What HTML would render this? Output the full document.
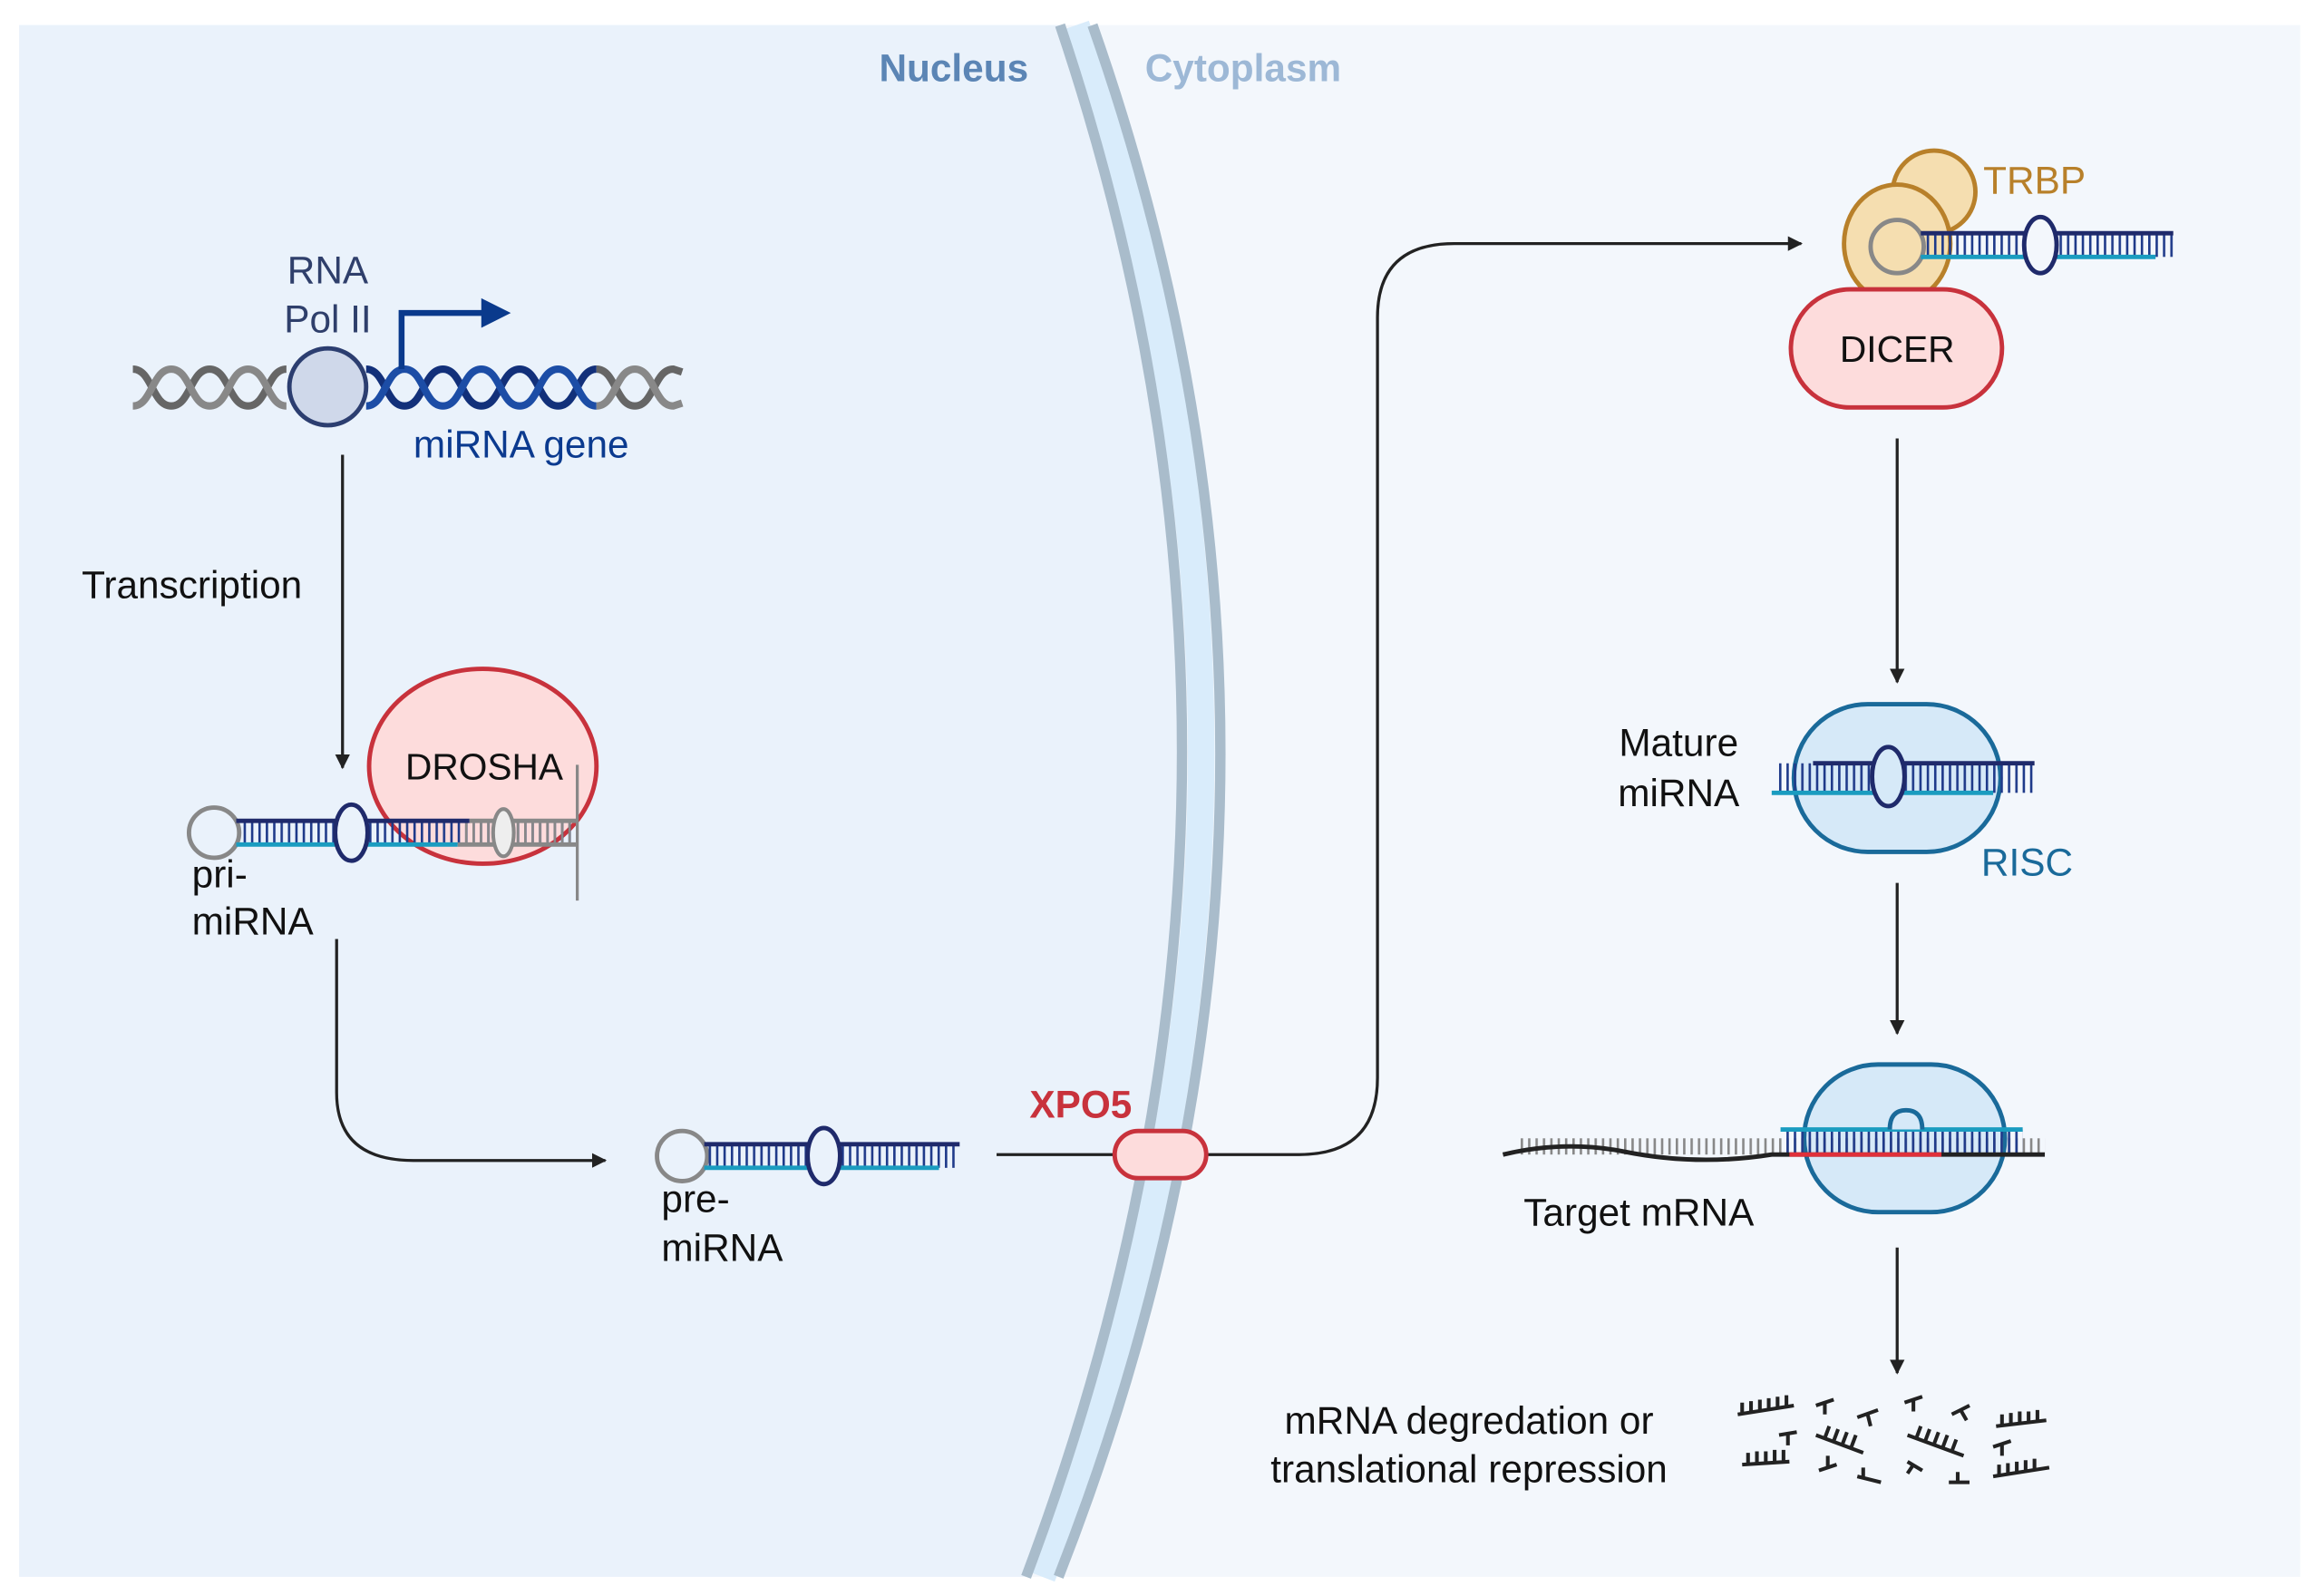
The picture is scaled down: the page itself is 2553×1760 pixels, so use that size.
<!DOCTYPE html>
<html><head><meta charset="utf-8"><style>
html,body{margin:0;padding:0;background:#fff;}
svg{display:block;}
text{font-family:"Liberation Sans",Arial,sans-serif;}
</style></head><body>
<svg width="2553" height="1760" viewBox="0 0 1568 1081" preserveAspectRatio="none" xmlns="http://www.w3.org/2000/svg">
<defs>
<pattern id="rb" x="0" y="0" width="5" height="40" patternUnits="userSpaceOnUse"><rect x="0" y="0" width="1.6" height="40" fill="#1f3a8a"/></pattern>
<pattern id="rg" x="0" y="0" width="5" height="40" patternUnits="userSpaceOnUse"><rect x="0" y="0" width="1.6" height="40" fill="#888"/></pattern>
<marker id="ah" markerWidth="10" markerHeight="10" refX="9" refY="5" orient="auto" markerUnits="userSpaceOnUse"><path d="M0,0 L10,5 L0,10 z" fill="#222"/></marker>
</defs>
<rect x="0" y="0" width="1568" height="1081" fill="#fff"/>
<rect x="13" y="17" width="1545" height="1051" fill="#f3f7fc"/>
<path d="M13,17 L718,17 Q894,540 695,1068 L13,1068 Z" fill="#eaf2fb"/>
<path d="M729,17 Q909,540 706,1068" fill="none" stroke="#d9ecfb" stroke-width="18"/>
<path d="M718,17 Q894,540 695,1068" fill="none" stroke="#a9bccb" stroke-width="7"/>
<path d="M740,17 Q924,540 717,1068" fill="none" stroke="#a9bccb" stroke-width="7"/>
<text x="646" y="55" font-size="26" font-weight="bold" fill="#5b85b5" text-anchor="middle">Nucleus</text>
<text x="842" y="55" font-size="26" font-weight="bold" fill="#9db8d6" text-anchor="middle">Cytoplasm</text>

<g fill="none" stroke-width="5">
<path d="M90,250 C103,250 103,275 116,275 C129,275 129,250 142,250 C155,250 155,275 168,275 C181,275 181,250 194,250" stroke="#666"/>
<path d="M90,275 C103,275 103,250 116,250 C129,250 129,275 142,275 C155,275 155,250 168,250 C181,250 181,275 194,275" stroke="#888"/>
<path d="M248,250 C261,250 261,275 274,275 C287,275 287,250 300,250 C313,250 313,275 326,275 C339,275 339,250 352,250 C365,250 365,275 378,275 C391,275 391,250 404,250" stroke="#12307a"/>
<path d="M248,275 C261,275 261,250 274,250 C287,250 287,275 300,275 C313,275 313,250 326,250 C339,250 339,275 352,275 C365,275 365,250 378,250 C391,250 391,275 404,275" stroke="#1c4da6"/>
<path d="M404,250 C417,250 417,275 430,275 C443,275 443,250 456,250 L462,252" stroke="#666"/>
<path d="M404,275 C417,275 417,250 430,250 C443,250 443,275 456,275 L462,273" stroke="#888"/>
</g>
<circle cx="222" cy="262" r="26" fill="#cfd8ea" stroke="#2c3e70" stroke-width="3"/>
<path d="M272,250 L272,212 L328,212" fill="none" stroke="#0a3a8c" stroke-width="4"/>
<path d="M326,202 L346,212 L326,222 Z" fill="#0a3a8c"/>
<text x="222" y="192" font-size="26" fill="#2f3f6b" text-anchor="middle">RNA</text>
<text x="222" y="225" font-size="26" fill="#2f3f6b" text-anchor="middle">Pol II</text>
<text x="353" y="310" font-size="26" fill="#0b3a8f" text-anchor="middle">miRNA gene</text>

<line x1="232" y1="308" x2="232" y2="520" stroke="#222" stroke-width="2" marker-end="url(#ah)"/>
<text x="130" y="405" font-size="26" fill="#111" text-anchor="middle">Transcription</text>

<ellipse cx="327" cy="519" rx="77" ry="66" fill="#fddcdc" stroke="#c8323c" stroke-width="3"/>
<text x="328" y="528" font-size="25" fill="#111" text-anchor="middle">DROSHA</text>
<circle cx="145" cy="564" r="17" fill="#eaf2fb" stroke="#888" stroke-width="3"/>
<rect x="162" y="556" width="228" height="16" fill="url(#rb)"/>
<rect x="315" y="556" width="75" height="16" fill="url(#rg)"/>
<line x1="160" y1="556" x2="318" y2="556" stroke="#1f2a6b" stroke-width="3"/>
<line x1="160" y1="572" x2="310" y2="572" stroke="#1a9cc0" stroke-width="3"/>
<line x1="318" y1="556" x2="390" y2="556" stroke="#888" stroke-width="3"/>
<line x1="310" y1="572" x2="390" y2="572" stroke="#888" stroke-width="3"/>
<ellipse cx="238" cy="564" rx="11" ry="19" fill="#eaf2fb" stroke="#1f2a6b" stroke-width="3"/>
<ellipse cx="341" cy="564" rx="7" ry="16" fill="#eee" stroke="#888" stroke-width="2.5"/>
<line x1="391" y1="518" x2="391" y2="610" stroke="#888" stroke-width="2"/>
<text x="130" y="601" font-size="26" fill="#111">pri-</text>
<text x="130" y="633" font-size="26" fill="#111">miRNA</text>

<path d="M228,636 L228,740 Q228,786 280,786 L410,786" fill="none" stroke="#222" stroke-width="2" marker-end="url(#ah)"/>

<circle cx="462" cy="783" r="17" fill="#eaf2fb" stroke="#888" stroke-width="3"/>
<rect x="479" y="775" width="169" height="16" fill="url(#rb)"/>
<line x1="477" y1="775" x2="650" y2="775" stroke="#1f2a6b" stroke-width="3"/>
<line x1="477" y1="791" x2="636" y2="791" stroke="#1a9cc0" stroke-width="3"/>
<ellipse cx="558" cy="783" rx="11" ry="19" fill="#eaf2fb" stroke="#1f2a6b" stroke-width="3"/>
<text x="448" y="821" font-size="26" fill="#111">pre-</text>
<text x="448" y="854" font-size="26" fill="#111">miRNA</text>

<path d="M675,782 L880,782 Q933,782 933,730 L933,215 Q933,165 985,165 L1220,165" fill="none" stroke="#222" stroke-width="2" marker-end="url(#ah)"/>
<rect x="755" y="766" width="62" height="32" rx="16" fill="#fddcdc" stroke="#c8323c" stroke-width="3"/>
<text x="732" y="757" font-size="26" font-weight="bold" fill="#c8323c" text-anchor="middle">XPO5</text>

<circle cx="1310" cy="130" r="28" fill="#f5deb0" stroke="#b8802a" stroke-width="3"/>
<ellipse cx="1285" cy="165" rx="36" ry="40" fill="#f5deb0" stroke="#b8802a" stroke-width="3"/>
<text x="1378" y="131" font-size="26" fill="#b8802a" text-anchor="middle">TRBP</text>
<circle cx="1285" cy="167" r="18" fill="none" stroke="#888" stroke-width="3"/>
<rect x="1303" y="158" width="169" height="16" fill="url(#rb)"/>
<line x1="1301" y1="158" x2="1472" y2="158" stroke="#1f2a6b" stroke-width="3"/>
<line x1="1301" y1="174" x2="1460" y2="174" stroke="#1a9cc0" stroke-width="3"/>
<ellipse cx="1382" cy="166" rx="11" ry="19" fill="#f3f7fc" stroke="#1f2a6b" stroke-width="3"/>
<rect x="1213" y="196" width="143" height="80" rx="40" fill="#fddcdc" stroke="#c8323c" stroke-width="3"/>
<text x="1285" y="245" font-size="25" fill="#111" text-anchor="middle">DICER</text>

<line x1="1285" y1="297" x2="1285" y2="462" stroke="#222" stroke-width="2" marker-end="url(#ah)"/>

<rect x="1215" y="477" width="140" height="100" rx="50" fill="#d6e9f8" stroke="#1a6a9a" stroke-width="3"/>
<rect x="1202" y="517" width="176" height="20" fill="url(#rb)"/>
<line x1="1228" y1="517" x2="1378" y2="517" stroke="#1f2a6b" stroke-width="3"/>
<line x1="1200" y1="537" x2="1350" y2="537" stroke="#1a9cc0" stroke-width="3"/>
<ellipse cx="1279" cy="526" rx="11" ry="20" fill="#d6e9f8" stroke="#1f2a6b" stroke-width="3"/>
<text x="1137" y="512" font-size="26" fill="#111" text-anchor="middle">Mature</text>
<text x="1137" y="546" font-size="26" fill="#111" text-anchor="middle">miRNA</text>
<text x="1373" y="593" font-size="26" fill="#1a6a9a" text-anchor="middle">RISC</text>

<line x1="1285" y1="598" x2="1285" y2="700" stroke="#222" stroke-width="2" marker-end="url(#ah)"/>

<rect x="1222" y="721" width="136" height="100" rx="50" fill="#d6e9f8" stroke="#1a6a9a" stroke-width="3"/>
<rect x="1030" y="771" width="355" height="11" fill="url(#rg)"/>
<rect x="1208" y="765" width="162" height="16" fill="url(#rb)"/>
<path d="M1018,782 Q1060,772 1100,780 Q1150,790 1200,782 L1385,782" fill="none" stroke="#222" stroke-width="3"/>
<line x1="1212" y1="782" x2="1315" y2="782" stroke="#e0303a" stroke-width="3"/>
<line x1="1206" y1="765" x2="1370" y2="765" stroke="#1a9cc0" stroke-width="3"/>
<path d="M1280,765 Q1280,752 1291,752 Q1302,752 1302,765" fill="#d6e9f8" stroke="#1a6a9a" stroke-width="3"/>
<text x="1110" y="830" font-size="26" fill="#111" text-anchor="middle">Target mRNA</text>

<line x1="1285" y1="845" x2="1285" y2="930" stroke="#222" stroke-width="2" marker-end="url(#ah)"/>

<text x="995" y="971" font-size="26" fill="#111" text-anchor="middle">mRNA degredation or</text>
<text x="995" y="1004" font-size="26" fill="#111" text-anchor="middle">translational repression</text>

<g stroke="#222" stroke-width="2.5" fill="none">
<path d="M1177,958 L1215,952 M1180,958 v-8 M1186,957 v-8 M1192,956 v-8 M1198,955 v-8 M1204,954 v-8 M1210,953 v-8"/>
<path d="M1180,992 L1212,990 M1184,992 v-8 M1190,991 v-8 M1196,991 v-8 M1202,990 v-8 M1208,990 v-8"/>
<path d="M1230,952 L1242,948 M1236,950 v8"/>
<path d="M1205,972 L1217,970 M1211,971 v8"/>
<path d="M1230,972 L1262,984 M1236,974 l3,-8 M1242,976 l3,-8 M1248,978 l3,-8 M1254,980 l3,-8"/>
<path d="M1258,960 L1272,955 M1265,958 l2,8"/>
<path d="M1232,996 L1244,992 M1238,994 v-8"/>
<path d="M1258,1000 L1274,1004 M1262,1001 v-7"/>
<path d="M1290,950 L1302,946 M1296,948 v8"/>
<path d="M1292,972 L1330,986 M1298,974 l3,-8 M1304,976 l3,-8 M1310,978 l3,-8 M1316,980 l3,-8 M1322,983 l3,-8"/>
<path d="M1292,990 L1302,996 M1296,992 l-4,6"/>
<path d="M1322,958 L1334,952 M1328,955 l4,7"/>
<path d="M1320,1004 L1334,1004 M1326,1004 v-7"/>
<path d="M1352,966 L1386,962 M1356,966 v-8 M1362,965 v-8 M1368,964 v-8 M1374,964 v-8 M1380,963 v-8"/>
<path d="M1350,980 L1362,976 M1356,978 v8"/>
<path d="M1350,1000 L1388,994 M1354,1000 v-8 M1360,999 v-8 M1366,998 v-8 M1372,997 v-8 M1378,996 v-8"/>
</g>
</svg>
</body></html>
